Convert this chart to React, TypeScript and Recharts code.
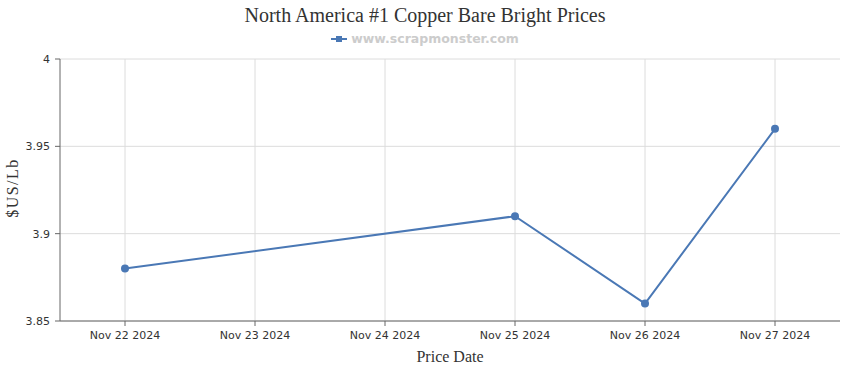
import { CartesianGrid, Line, LineChart, ReferenceLine, XAxis, YAxis } from "recharts";

const dates = ["Nov 22 2024", "Nov 23 2024", "Nov 24 2024", "Nov 25 2024", "Nov 26 2024", "Nov 27 2024"];
const prices: (number | null)[] = [3.88, null, null, 3.91, 3.86, 3.96];
const yTicks = [3.85, 3.9, 3.95, 4];

const data = dates.map((date, i) => ({ date, price: prices[i] }));

const LINE = "#4a78b5";
const GRID = "#dcdcdc";
const tickStyle = { fontFamily: "DejaVu Sans", fontSize: 11, fill: "#333" };

export default function App() {
  return (
    <div style={{ position: "absolute", left: 0, top: 0, width: 850, height: 370, background: "#fff" }}>
      <div
        style={{
          position: "absolute", top: 4, width: 850, textAlign: "center",
          fontFamily: "Liberation Serif", fontSize: 20, color: "#333",
        }}
      >
        North America #1 Copper Bare Bright Prices
      </div>
      <div
        style={{
          position: "absolute", top: 31, width: 850, display: "flex", justifyContent: "center", alignItems: "center",
          fontFamily: "DejaVu Sans", fontWeight: "bold", fontSize: 12.5, color: "#cccccc",
        }}
      >
        <svg width={16} height={10} style={{ marginRight: 4 }}>
          <line x1={0} y1={5} x2={16} y2={5} stroke={LINE} strokeWidth={2} />
          <rect x={5} y={2} width={6} height={6} fill={LINE} />
        </svg>
        www.scrapmonster.com
      </div>
      <LineChart width={850} height={370} data={data} margin={{ top: 59, right: 10, left: 0, bottom: 0 }}>
        <CartesianGrid stroke={GRID} vertical={false} />
        {dates.map((d) => (
          <ReferenceLine key={d} x={d} stroke={GRID} />
        ))}
        <XAxis
          dataKey="date"
          height={49}
          padding={{ left: 65, right: 65 }}
          tick={tickStyle}
          tickSize={5}
          tickMargin={5}
          stroke="#666"
          interval={0}
          label={{ value: "Price Date", position: "insideBottom", offset: 8, style: { fontFamily: "Liberation Serif", fontSize: 16, fill: "#333" } }}
        />
        <YAxis
          width={60}
          domain={[3.85, 4]}
          ticks={yTicks}
          tick={tickStyle}
          tickSize={5}
          tickMargin={5}
          stroke="#666"
          label={{
            content: () => (
              <text x={12} y={188} transform="rotate(-90 12 188)" textAnchor="middle" dominantBaseline="central"
                style={{ fontFamily: "Liberation Serif", fontSize: 16, letterSpacing: 1.5, fill: "#333" }}>
                $US/Lb
              </text>
            ),
          }}
        />
        <Line
          type="linear"
          dataKey="price"
          stroke={LINE}
          strokeWidth={2}
          connectNulls
          dot={{ r: 4, fill: LINE, stroke: LINE, strokeWidth: 0 }}
          isAnimationActive={false}
        />
      </LineChart>
    </div>
  );
}
